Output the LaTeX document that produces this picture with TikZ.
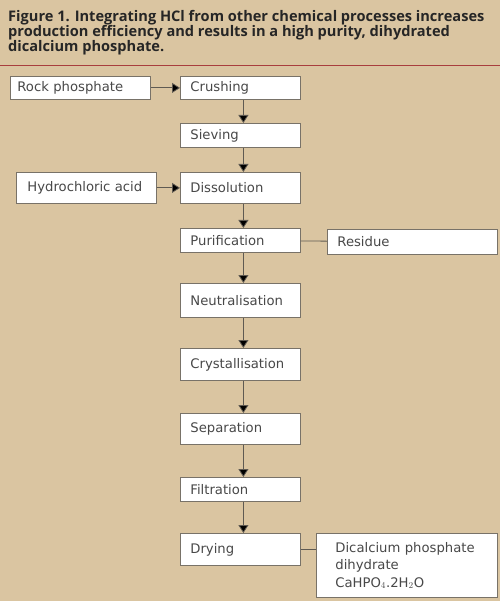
\documentclass[tikz,border=0pt]{standalone}
\usepackage{fontspec}
\setmainfont{DejaVu Sans}
\newfontfamily\titlefont{Open Sans}
\usepackage{tikz}
\usetikzlibrary{arrows.meta}

\definecolor{paper}{RGB}{218,197,161}
\definecolor{rule}{RGB}{168,62,62}
\definecolor{boxline}{RGB}{120,114,104}
\definecolor{boxtext}{RGB}{72,72,72}
\definecolor{flowline}{RGB}{95,90,82}

\tikzset{
  stage/.style={draw=boxline, line width=0.8pt, fill=white, anchor=north west,
    inner xsep=10pt, inner ysep=0pt, align=left, text=boxtext,
    font=\fontsize{13.2}{17.5}\selectfont},
  flow/.style={draw=flowline, line width=0.8pt, -{Triangle[length=8pt,width=10pt,fill=black]}},
  link/.style={draw=flowline, line width=0.8pt}
}

\begin{document}
\begin{tikzpicture}[x=1pt,y=-1pt]
             \fill[paper] (0,0) rectangle (500,601);
             \useasboundingbox (0,0) rectangle (500,601);
             \node[anchor=north west, inner sep=0pt, align=left, text=black!85,
                   font=\titlefont\bfseries\fontsize{14.6}{15}\selectfont] (title) at (8,10)
                  {Figure 1. Integrating HCl from other chemical processes increases\\
                   production efficiency and results in a high purity, dihydrated\\
                   dicalcium phosphate.};
             \draw[rule, line width=0.8pt] (0,65) -- (500,65);
             % feeds on the left
             \node[stage, inner xsep=7pt, text width=126pt, minimum height=23pt] (rock) at (10,76) {Rock phosphate};
             \node[stage, inner xsep=11pt, text width=118pt, minimum height=31pt] (acid) at (16,172) {Hydrochloric acid};
             % main column
             \node[stage, text width=100pt, minimum height=23pt] (crushing) at (180,76) {Crushing};
             \node[stage, text width=100pt, minimum height=24pt] (sieving) at (180,123) {Sieving};
             \node[stage, text width=100pt, minimum height=31pt] (dissolution) at (180,172) {Dissolution};
             \node[stage, text width=100pt, minimum height=24pt] (purification) at (180,228) {Purification};
             \node[stage, text width=100pt, minimum height=34pt] (neutralisation) at (180,283) {Neutralisation};
             \node[stage, text width=100pt, minimum height=32pt] (crystallisation) at (180,348) {Crystallisation};
             \node[stage, text width=100pt, minimum height=31pt] (separation) at (180,413) {Separation};
             \node[stage, text width=100pt, minimum height=24pt] (filtration) at (180,477) {Filtration};
             \node[stage, text width=100pt, minimum height=32pt] (drying) at (180,533) {Drying};
             % outputs on the right
             \node[stage, text width=150pt, minimum height=25pt] (residue) at (327,229) {Residue};
             \node[stage, inner xsep=19pt, text width=143pt, minimum height=64pt] (product) at (316,533)
                  {Dicalcium phosphate\\dihydrate\\CaHPO$_4$.2H$_2$O};
             % connectors
             \draw[flow] (rock) -- (crushing);
             \draw[flow] (acid) -- (dissolution);
             \foreach \a/\b in {crushing/sieving, sieving/dissolution, dissolution/purification,
                                purification/neutralisation, neutralisation/crystallisation,
                                crystallisation/separation, separation/filtration, filtration/drying}
               \draw[flow] ([xshift=3pt]\a.south) -- ([xshift=3pt]\b.north);
             \draw[link] (purification) -- (residue);
             \draw[link] (drying) -- (drying.east -| product.west);
            \end{tikzpicture}
\end{document}
